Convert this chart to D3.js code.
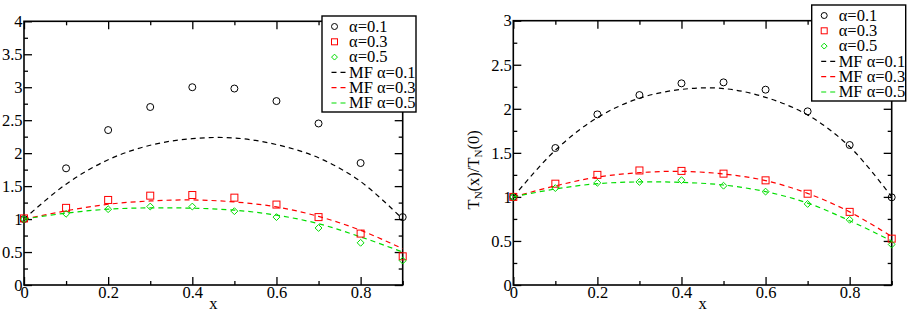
<!DOCTYPE html>
<html lang="en">
<head>
<meta charset="UTF-8">
<title>T_N(x)/T_N(0) vs x</title>
<script src="https://d3js.org/d3.v7.min.js"></script>
<style>
    body { margin: 0; background: #fff; }
    svg text { font-family: 'Liberation Serif', 'DejaVu Serif', serif; fill: #000; }
</style>
</head>
<body>
<svg id="chart" width="908" height="328"></svg>
<script>
// x positions of the points
let xs = [0, 0.1, 0.2, 0.3, 0.4, 0.5, 0.6, 0.7, 0.8, 0.9]

// left panel simulation points
let leftA01 = [1.0, 1.77, 2.35, 2.70, 3.0, 2.98, 2.79, 2.45, 1.85, 1.03]
let leftA03 = [1.01, 1.17, 1.29, 1.355, 1.365, 1.325, 1.22, 1.03, 0.78, 0.435]
let leftA05 = [1.0, 1.08, 1.15, 1.19, 1.19, 1.12, 1.03, 0.865, 0.64, 0.37]

// right panel simulation points
let rightA01 = [1.0, 1.555, 1.937, 2.156, 2.289, 2.30, 2.217, 1.971, 1.589, 0.995]
let rightA03 = [1.0, 1.15, 1.25, 1.30, 1.295, 1.264, 1.188, 1.036, 0.83, 0.526]
let rightA05 = [1.0, 1.10, 1.16, 1.17, 1.19, 1.127, 1.06, 0.92, 0.74, 0.46]

// mean field curves (same in both panels)
let mfA01 = [1.0, 1.53, 1.90, 2.12, 2.22, 2.23, 2.13, 1.93, 1.57, 1.0]
let mfA03 = [1.0, 1.125, 1.225, 1.275, 1.29, 1.26, 1.185, 1.04, 0.83, 0.55]
let mfA05 = [1.0, 1.09, 1.15, 1.17, 1.165, 1.135, 1.06, 0.93, 0.73, 0.5]

let legendLabels = ["\u03b1=0.1", "\u03b1=0.3", "\u03b1=0.5", "MF \u03b1=0.1", "MF \u03b1=0.3", "MF \u03b1=0.5"]
let seriesColors = ["#000000", "#ff0000", "#00dd00"]
let serif = "'Liberation Serif', 'DejaVu Serif', serif"
let fs = 16.5

let svg = d3.select("#chart")

function drawPanel(p) {
    let x = d3.scaleLinear().domain([0, 0.9]).range([p.left, p.right])
    let y = d3.scaleLinear().domain([0, p.ymax]).range([p.bottom, p.top])
    let g = svg.append("g")

    let yMajor = d3.range(0, p.ymax + 0.01, 0.5)
    let yMinor = d3.range(0.25, p.ymax, 0.5)
    let xMajor = [0, 0.2, 0.4, 0.6, 0.8]
    let xMinor = [0.1, 0.3, 0.5, 0.7, 0.9]
    let fmt = d => String(+d.toFixed(2))

    // bottom axis with labels
    g.append("g").attr("transform", `translate(0,${p.bottom})`)
        .call(d3.axisBottom(x).tickValues(xMajor).tickSize(-8).tickSizeOuter(0).tickPadding(1.5).tickFormat(fmt))
    g.append("g").attr("transform", `translate(0,${p.bottom})`)
        .call(d3.axisBottom(x).tickValues(xMinor).tickSize(-4).tickSizeOuter(0).tickFormat(""))
    // top axis, ticks only
    g.append("g").attr("transform", `translate(0,${p.top})`)
        .call(d3.axisTop(x).tickValues(xMajor).tickSize(-8).tickSizeOuter(0).tickFormat(""))
    g.append("g").attr("transform", `translate(0,${p.top})`)
        .call(d3.axisTop(x).tickValues(xMinor).tickSize(-4).tickSizeOuter(0).tickFormat(""))
    // left axis with labels
    g.append("g").attr("transform", `translate(${p.left},0)`)
        .call(d3.axisLeft(y).tickValues(yMajor).tickSize(-8).tickSizeOuter(0).tickPadding(1.5).tickFormat(fmt))
    g.append("g").attr("transform", `translate(${p.left},0)`)
        .call(d3.axisLeft(y).tickValues(yMinor).tickSize(-4).tickSizeOuter(0).tickFormat(""))
    // right axis, ticks only
    g.append("g").attr("transform", `translate(${p.right},0)`)
        .call(d3.axisRight(y).tickValues(yMajor).tickSize(-8).tickSizeOuter(0).tickFormat(""))
    g.append("g").attr("transform", `translate(${p.right},0)`)
        .call(d3.axisRight(y).tickValues(yMinor).tickSize(-4).tickSizeOuter(0).tickFormat(""))

    g.selectAll(".domain").remove()
    g.selectAll("g").attr("font-family", serif).attr("font-size", fs)
    g.selectAll(".tick line").attr("stroke", "#000").attr("stroke-width", 1.3)
    g.selectAll(".tick text").attr("font-family", serif).attr("font-size", fs)

    // frame
    g.append("rect")
        .attr("x", p.left).attr("y", p.top)
        .attr("width", p.right - p.left).attr("height", p.bottom - p.top)
        .attr("fill", "none").attr("stroke", "#000").attr("stroke-width", 1.6)

    // x label
    g.append("text")
        .attr("x", (p.left + p.right) / 2).attr("y", 309)
        .attr("text-anchor", "middle").attr("font-family", serif).attr("font-size", fs).text("x")

    if (p.ylabel) {
        let t = g.append("text")
            .attr("transform", `translate(${p.left - 34},${(p.top + p.bottom) / 2 + 17}) rotate(-90)`)
            .attr("text-anchor", "middle").attr("font-family", serif).attr("font-size", fs)
        t.append("tspan").text("T")
        t.append("tspan").attr("baseline-shift", "-25%").attr("font-size", 11).text("N")
        t.append("tspan").text("(x)/T")
        t.append("tspan").attr("baseline-shift", "-25%").attr("font-size", 11).text("N")
        t.append("tspan").text("(0)")
    }

    // mean field curves
    let line = d3.line().x((d, i) => x(xs[i])).y(d => y(d)).curve(d3.curveCatmullRom)
    let mfs = [mfA01, mfA03, mfA05]
    mfs.forEach((vals, k) => {
        g.append("path").datum(vals)
            .attr("d", line)
            .attr("fill", "none")
            .attr("stroke", seriesColors[k])
            .attr("stroke-width", 1.2)
            .attr("stroke-dasharray", "5,4")
    })

    // symbols
    let pts = p.points
    g.selectAll(".c").data(pts[0]).join("circle")
        .attr("cx", (d, i) => x(xs[i])).attr("cy", d => y(d)).attr("r", 3.5)
        .attr("fill", "none").attr("stroke", seriesColors[0]).attr("stroke-width", 1)
    g.selectAll(".s").data(pts[1]).join("rect")
        .attr("x", (d, i) => x(xs[i]) - 3.5).attr("y", d => y(d) - 3.5)
        .attr("width", 7).attr("height", 7)
        .attr("fill", "none").attr("stroke", seriesColors[1]).attr("stroke-width", 1)
    let diamond = d3.symbol().type(d3.symbolDiamond2).size(30)
    g.selectAll(".d").data(pts[2]).join("path")
        .attr("transform", (d, i) => `translate(${x(xs[i])},${y(d)})`)
        .attr("d", diamond)
        .attr("fill", "none").attr("stroke", seriesColors[2]).attr("stroke-width", 1)

    // legend
    let lg = g.append("g")
    lg.append("rect")
        .attr("x", p.legend.x).attr("y", p.legend.y)
        .attr("width", 94).attr("height", 96)
        .attr("fill", "#fff").attr("stroke", "#000").attr("stroke-width", 1.4)
    legendLabels.forEach((lab, i) => {
        let cy = p.legend.y + 10.5 + i * 15.3
        let sx = p.legend.x + 12.5
        let k = i % 3
        if (i < 3) {
            if (k === 0) lg.append("circle").attr("cx", sx).attr("cy", cy).attr("r", 3)
                .attr("fill", "none").attr("stroke", seriesColors[0])
            if (k === 1) lg.append("rect").attr("x", sx - 3).attr("y", cy - 3).attr("width", 6).attr("height", 6)
                .attr("fill", "none").attr("stroke", seriesColors[1])
            if (k === 2) lg.append("path").attr("transform", `translate(${sx},${cy})`)
                .attr("d", d3.symbol().type(d3.symbolDiamond2).size(22))
                .attr("fill", "none").attr("stroke", seriesColors[2])
        } else {
            lg.append("line").attr("x1", sx - 3).attr("x2", sx + 11)
                .attr("y1", cy).attr("y2", cy)
                .attr("stroke", seriesColors[k]).attr("stroke-width", 1.2)
                .attr("stroke-dasharray", "5,4")
        }
        lg.append("text").attr("x", p.legend.x + 27).attr("y", cy + 5.2)
            .attr("font-family", serif).attr("font-size", fs).text(lab)
    })
}

drawPanel({
    left: 24, right: 402.7, top: 21.3, bottom: 285, ymax: 4,
    points: [leftA01, leftA03, leftA05],
    legend: { x: 322, y: 16 }, ylabel: false
})
drawPanel({
    left: 513.3, right: 891.7, top: 20.7, bottom: 285, ymax: 3,
    points: [rightA01, rightA03, rightA05],
    legend: { x: 811.7, y: 5 }, ylabel: true
})
</script>
</body>
</html>
